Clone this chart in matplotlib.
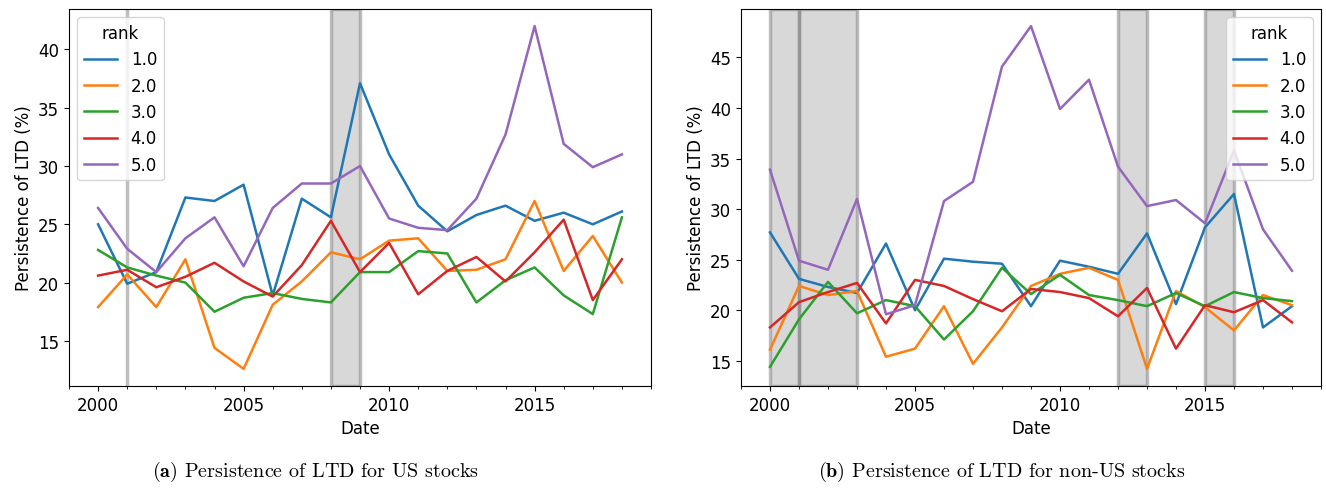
import numpy as np
import matplotlib.pyplot as plt
from matplotlib.ticker import MultipleLocator

plt.rcParams['font.size'] = 12
plt.rcParams['mathtext.fontset'] = 'cm'

years = list(range(2000, 2019))
ranks = ['1.0', '2.0', '3.0', '4.0', '5.0']
colors = ['tab:blue', 'tab:orange', 'tab:green', 'tab:red', 'tab:purple']

# persistence of LTD (%) for US stocks, one list per rank
us_rank1 = [25.0, 19.9, 20.9, 27.3, 27.0, 28.4, 18.9, 27.2, 25.6, 37.1,
            31.0, 26.6, 24.4, 25.8, 26.6, 25.3, 26.0, 25.0, 26.1]
us_rank2 = [17.9, 20.7, 17.9, 22.0, 14.4, 12.6, 18.1, 20.1, 22.6, 22.0,
            23.6, 23.8, 21.0, 21.1, 22.0, 27.0, 21.0, 24.0, 20.0]
us_rank3 = [22.8, 21.3, 20.6, 20.0, 17.5, 18.7, 19.1, 18.6, 18.3, 20.9,
            20.9, 22.7, 22.5, 18.3, 20.2, 21.3, 18.9, 17.3, 25.6]
us_rank4 = [20.6, 21.1, 19.6, 20.5, 21.7, 20.1, 18.8, 21.5, 25.3, 20.9,
            23.4, 19.0, 21.0, 22.2, 20.1, 22.6, 25.4, 18.5, 22.0]
us_rank5 = [26.4, 22.9, 20.9, 23.8, 25.6, 21.4, 26.4, 28.5, 28.5, 30.0,
            25.5, 24.7, 24.5, 27.2, 32.7, 42.0, 31.9, 29.9, 31.0]

# persistence of LTD (%) for non-US stocks
nonus_rank1 = [27.7, 23.1, 22.3, 21.7, 26.6, 20.0, 25.1, 24.8, 24.6, 20.4,
               24.9, 24.3, 23.6, 27.6, 20.6, 28.2, 31.5, 18.3, 20.4]
nonus_rank2 = [16.1, 22.4, 21.5, 21.9, 15.4, 16.2, 20.4, 14.7, 18.3, 22.4,
               23.6, 24.2, 23.0, 14.2, 21.9, 20.3, 18.0, 21.5, 20.5]
nonus_rank3 = [14.4, 19.1, 22.8, 19.7, 21.0, 20.4, 17.1, 19.9, 24.2, 21.6,
               23.5, 21.5, 21.0, 20.4, 21.7, 20.4, 21.8, 21.2, 20.9]
nonus_rank4 = [18.3, 20.8, 21.8, 22.7, 18.7, 23.0, 22.4, 21.1, 19.9, 22.1,
               21.8, 21.2, 19.4, 22.2, 16.2, 20.5, 19.8, 21.0, 18.8]
nonus_rank5 = [33.9, 24.9, 24.0, 31.0, 19.6, 20.5, 30.8, 32.7, 44.1, 48.1,
               39.9, 42.8, 34.2, 30.3, 30.9, 28.6, 35.8, 28.0, 23.9]

# shaded periods (start, end)
us_periods = [(2001, 2001), (2008, 2009)]
nonus_periods = [(2000, 2001), (2001, 2003), (2012, 2013), (2015, 2016)]


def draw_panel(ax, series, periods, legend_loc):
    for vals, lab, c in zip(series, ranks, colors):
        ax.plot(years, vals, color=c, lw=1.8, label=lab)
    for a, b in periods:
        ax.axvspan(a, b, facecolor=(0.5, 0.5, 0.5, 0.3),
                   edgecolor=(0.5, 0.5, 0.5, 0.5), lw=2.5)
    ax.set_xlim(1999, 2019)
    ax.xaxis.set_major_locator(MultipleLocator(5))
    ax.xaxis.set_minor_locator(MultipleLocator(1))
    ax.set_xlabel('Date')
    ax.set_ylabel('Persistence of LTD (%)')
    ax.legend(title='rank', loc=legend_loc, title_fontsize=12)


fig = plt.figure(figsize=(13.26, 4.89), dpi=100)
ax1 = fig.add_axes([69 / 1326, 102 / 489, 582 / 1326, 377 / 489])
ax2 = fig.add_axes([741 / 1326, 102 / 489, 580 / 1326, 377 / 489])

draw_panel(ax1, [us_rank1, us_rank2, us_rank3, us_rank4, us_rank5],
           us_periods, 'upper left')
draw_panel(ax2, [nonus_rank1, nonus_rank2, nonus_rank3, nonus_rank4, nonus_rank5],
           nonus_periods, 'upper right')

fig.text(316 / 1326, 1 - 472 / 489, r'$\mathbf{(a)}$ Persistence of LTD for US stocks',
         family='cmr10', fontsize=14.5, ha='center', va='center')
fig.text(1002 / 1326, 1 - 472 / 489, r'$\mathbf{(b)}$ Persistence of LTD for non-US stocks',
         family='cmr10', fontsize=14.5, ha='center', va='center')

fig.savefig('out.png', dpi=100)
